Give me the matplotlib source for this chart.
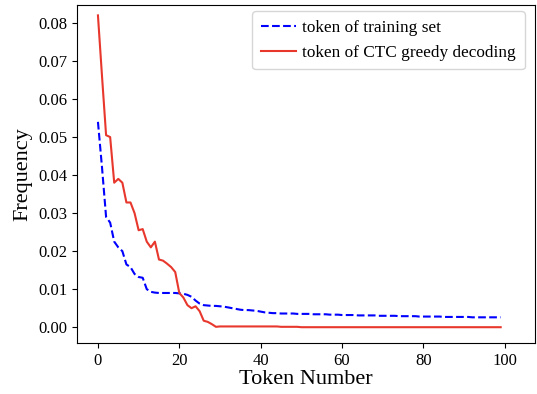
import matplotlib
matplotlib.use("Agg")
import matplotlib.pyplot as plt

plt.rcParams["font.family"] = ["Liberation Serif", "DejaVu Serif"]

# frequency of the top-100 tokens
train_freq = [
    0.0540, 0.0420, 0.0290, 0.0275, 0.0225, 0.0210, 0.0200, 0.0165, 0.0158, 0.0140,
    0.0132, 0.0130, 0.0100, 0.0093, 0.0091, 0.0090, 0.0090, 0.0090, 0.0090, 0.0090,
    0.0089, 0.0088, 0.0085, 0.0080, 0.0070, 0.0062, 0.0058, 0.0057, 0.0056, 0.0056,
    0.0055, 0.0054, 0.0052, 0.0050, 0.0048, 0.0046, 0.0045, 0.0045, 0.0044, 0.0043,
    0.0041, 0.0039, 0.0038, 0.0037, 0.0037, 0.0036, 0.0036, 0.0036, 0.0036, 0.0035,
    0.0035, 0.0035, 0.0035, 0.0034, 0.0034, 0.0034, 0.0034, 0.0033, 0.0033, 0.0033,
    0.0032, 0.0032, 0.0032, 0.0032, 0.0031, 0.0031, 0.0031, 0.0031, 0.0031, 0.0030,
    0.0030, 0.0030, 0.0030, 0.0030, 0.0029, 0.0029, 0.0029, 0.0029, 0.0029, 0.0028,
    0.0028, 0.0028, 0.0028, 0.0028, 0.0028, 0.0027, 0.0027, 0.0027, 0.0027, 0.0027,
    0.0027, 0.0027, 0.0026, 0.0026, 0.0026, 0.0026, 0.0026, 0.0026, 0.0026, 0.0026,
]
ctc_freq = [
    0.0820, 0.0660, 0.0505, 0.0500, 0.0380, 0.0390, 0.0380, 0.0328, 0.0328, 0.0300,
    0.0255, 0.0258, 0.0225, 0.0210, 0.0225, 0.0178, 0.0175, 0.0167, 0.0158, 0.0145,
    0.0090, 0.0078, 0.0058, 0.0050, 0.0055, 0.0042, 0.0017, 0.0014, 0.0008, 0.0001,
    0.0002, 0.0002, 0.0002, 0.0002, 0.0002, 0.0002, 0.0002, 0.0002, 0.0002, 0.0002,
    0.0002, 0.0002, 0.0002, 0.0002, 0.0002, 0.0001, 0.0001, 0.0001, 0.0001, 0.0001,
    0.0, 0.0, 0.0, 0.0, 0.0, 0.0, 0.0, 0.0, 0.0, 0.0,
    0.0, 0.0, 0.0, 0.0, 0.0, 0.0, 0.0, 0.0, 0.0, 0.0,
    0.0, 0.0, 0.0, 0.0, 0.0, 0.0, 0.0, 0.0, 0.0, 0.0,
    0.0, 0.0, 0.0, 0.0, 0.0, 0.0, 0.0, 0.0, 0.0, 0.0,
    0.0, 0.0, 0.0, 0.0, 0.0, 0.0, 0.0, 0.0, 0.0, 0.0,
]
token_idx = list(range(len(train_freq)))

fig = plt.figure(figsize=(5.37, 3.94), dpi=100)
ax = fig.add_axes([0.143, 0.129, 0.853, 0.858])

ax.plot(token_idx, train_freq, "--", color="blue", lw=1.5, label="token of training set")
ax.plot(token_idx, ctc_freq, "-", color="#e8372c", lw=1.5, label="token of CTC greedy decoding")

ax.set_xlim(-5.2, 107.4)
ax.set_ylim(-0.0042, 0.0847)
ax.set_xticks([0, 20, 40, 60, 80, 100])
ax.set_yticks([0.0, 0.01, 0.02, 0.03, 0.04, 0.05, 0.06, 0.07, 0.08])
ax.set_yticklabels([f"{v:.2f}" for v in ax.get_yticks()])
ax.tick_params(labelsize=12)

ax.set_xlabel("Token Number", fontsize=16, labelpad=1)
ax.set_ylabel("Frequency", fontsize=16, labelpad=4)
ax.legend(loc="upper right", fontsize=12.4, handlelength=2.0, handletextpad=0.4,
          borderpad=0.5, bbox_to_anchor=(0.978, 0.982), borderaxespad=0,
          labelspacing=0.5)

fig.savefig("out.png", dpi=100)
plt.close(fig)
